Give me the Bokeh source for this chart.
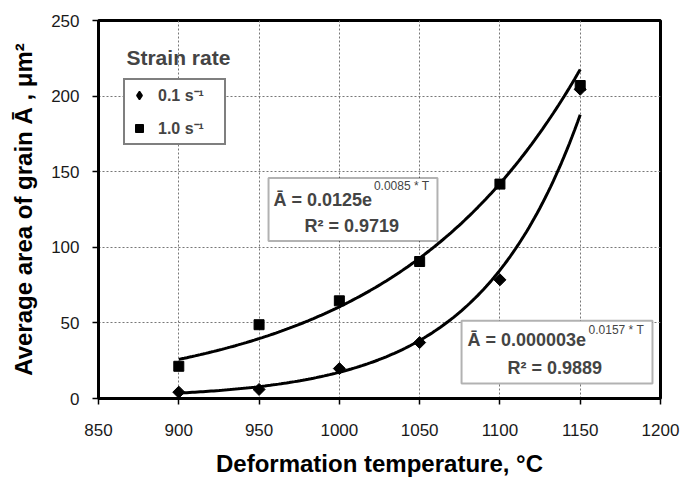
import numpy as np
from bokeh.plotting import figure
from bokeh.models import Range1d, FixedTicker, Legend, LegendItem, Label, BoxAnnotation
from bokeh.embed import file_html
from bokeh.resources import INLINE

# ---------------- data ----------------
temperature = [900, 950, 1000, 1050, 1100, 1150]
area_01 = [4.2, 6.0, 19.8, 37.0, 78.5, 204.5]      # strain rate 0.1 s^-1 (diamonds)
area_10 = [21.3, 48.8, 64.6, 90.6, 141.8, 207.0]   # strain rate 1.0 s^-1 (squares)
x_ticks = [850, 900, 950, 1000, 1050, 1100, 1150, 1200]
y_ticks = [0, 50, 100, 150, 200, 250]
series_labels = ["0.1 s\u207b\u00b9", "1.0 s\u207b\u00b9"]
legend_title = "Strain rate"
eq_10 = ["\u0100 = 0.0125e", "0.0085 * T", "R\u00b2 = 0.9719"]
eq_01 = ["\u0100 = 0.000003e", "0.0157 * T", "R\u00b2 = 0.9889"]
x_label = "Deformation temperature, \u00b0C"
y_label = "Average area of grain \u0100 , \u03bcm\u00b2"

FONT = "Liberation Sans"


def exp_trend(y):
    """Exponential least-squares trendline (fit of ln y on T), as in the source chart."""
    t = np.asarray(temperature, dtype=float)
    b, ln_a = np.polyfit(t, np.log(np.asarray(y, dtype=float)), 1)
    tt = np.linspace(t.min(), t.max(), 150)
    return tt, np.exp(ln_a + b * tt)


p = figure(width=683, height=479, x_range=Range1d(850, 1200), y_range=Range1d(0, 250),
           output_backend="svg", toolbar_location=None, title=None,
           min_border_left=98, min_border_right=23, min_border_top=20, min_border_bottom=80)

p.background_fill_color = "white"
p.border_fill_color = "white"
p.outline_line_color = "black"
p.outline_line_width = 3

# axes
for ax in (p.xaxis[0], p.yaxis[0]):
    ax.axis_line_color = "black"
    ax.axis_line_width = 3
    ax.major_tick_line_color = "black"
    ax.major_tick_line_width = 1.5
    ax.major_tick_out = 6
    ax.major_tick_in = 0
    ax.minor_tick_line_color = None
    ax.major_label_text_font = FONT
    ax.major_label_text_font_size = "17px"
    ax.major_label_text_color = "#1a1a1a"
    ax.axis_label_text_font = FONT
    ax.axis_label_text_font_size = "24px"
    ax.axis_label_text_font_style = "bold"
    ax.axis_label_text_color = "black"

p.xaxis.ticker = FixedTicker(ticks=x_ticks)
p.yaxis.ticker = FixedTicker(ticks=y_ticks)
p.xaxis.axis_label = x_label
p.yaxis.axis_label = y_label
p.xaxis.major_label_standoff = 19
p.xaxis.axis_label_standoff = 11
p.yaxis.major_label_standoff = 13
p.yaxis.axis_label_standoff = 11

# grid
for g in (p.xgrid[0], p.ygrid[0]):
    g.grid_line_color = "#777777"
    g.grid_line_dash = "2 2"
    g.grid_line_width = 1

# trendlines
tx, ty = exp_trend(area_01)
p.line(tx, ty, line_color="black", line_width=3)
tx, ty = exp_trend(area_10)
p.line(tx, ty, line_color="black", line_width=3)

# markers
r01 = p.scatter(temperature, area_01, marker="square", angle=np.pi / 4, size=8.5,
                fill_color="black", line_color="black")
r10 = p.scatter(temperature, area_10, marker="square", size=10,
                fill_color="black", line_color="black")
# legend-only stand-in so the legend shows a diamond (legend glyphs ignore angle)
r01_key = p.scatter(temperature, area_01, marker="diamond", size=0.1,
                    fill_color="black", line_color="black", line_width=1.5)

# legend
legend = Legend(items=[LegendItem(label=series_labels[0], renderers=[r01_key]),
                       LegendItem(label=series_labels[1], renderers=[r10])],
                location=(25, 253))
legend.border_line_color = "black"
legend.border_line_width = 2
legend.background_fill_color = "white"
legend.background_fill_alpha = 1
legend.label_text_font = FONT
legend.label_text_font_style = "bold"
legend.label_text_font_size = "16px"
legend.glyph_width = 20
legend.glyph_height = 20
legend.label_height = 20
legend.label_width = 62
legend.label_standoff = 9
legend.spacing = 11
legend.padding = 4
legend.margin = 0
p.add_layout(legend)

p.add_layout(Label(x=867.4, y=225.6, text=legend_title, text_font=FONT, text_font_size="21px",
                   text_font_style="bold", text_baseline="middle", text_align="left"))

# equation boxes
p.add_layout(BoxAnnotation(left=955.9, right=1061.1, bottom=104.2, top=145.8,
                           fill_color="white", fill_alpha=1, line_color="black", line_width=2))
p.add_layout(BoxAnnotation(left=1076.1, right=1195.0, bottom=9.9, top=51.5,
                           fill_color="white", fill_alpha=1, line_color="black", line_width=2))

def eq_labels(eq, x1, y1, xs, ys, x2, y2):
    p.add_layout(Label(x=x1, y=y1, text=eq[0], text_font=FONT, text_font_size="18px",
                       text_font_style="bold", text_baseline="middle", text_align="left"))
    p.add_layout(Label(x=xs, y=ys, text=eq[1], text_font=FONT, text_font_size="12px",
                       text_baseline="middle", text_align="left"))
    p.add_layout(Label(x=x2, y=y2, text=eq[2], text_font=FONT, text_font_size="18px",
                       text_font_style="bold", text_baseline="middle", text_align="left"))

eq_labels(eq_10, 959.0, 131.3, 1021.5, 140.5, 978.3, 114.1)
eq_labels(eq_01, 1079.8, 38.9, 1155.2, 45.5, 1104.7, 20.4)

open("out.html", "w").write(file_html(p, INLINE))
